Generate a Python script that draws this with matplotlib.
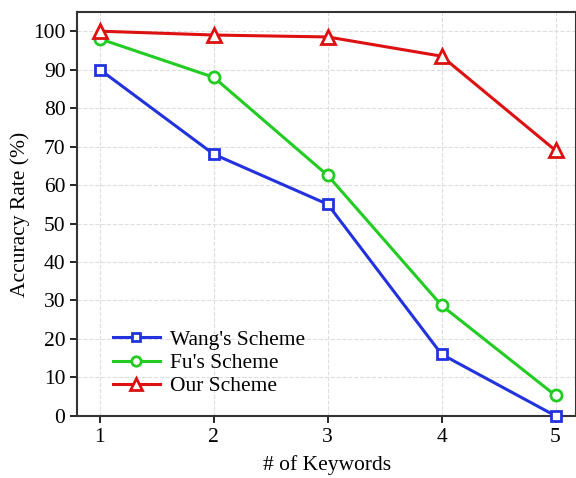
import matplotlib.pyplot as plt

keywords = [1, 2, 3, 4, 5]
wang = [90, 68, 55, 16, 0]
fu = [98, 88, 62.5, 28.7, 5.3]
ours = [100, 99, 98.5, 93.5, 69]

plt.rcParams['font.family'] = ['Liberation Serif', 'DejaVu Serif']

fig = plt.figure(figsize=(5.76, 4.78), dpi=100)
ax = fig.add_axes([0.134, 0.13, 0.866, 0.845])

ax.plot(keywords, wang, '-s', color='#2233dd', lw=2.2, ms=7, mfc='white', mew=2, label="Wang's Scheme", clip_on=False, zorder=3)
ax.plot(keywords, fu, '-o', color='#22cc22', lw=2.2, ms=8, mfc='white', mew=2, label="Fu's Scheme", clip_on=False, zorder=3)
ax.plot(keywords, ours, '-^', color='#dd1111', lw=2.2, ms=9.5, mfc='white', mew=2, label="Our Scheme", clip_on=False, zorder=3)

ax.set_xlim(0.8, 5.18)
ax.set_ylim(0, 105)
ax.set_xticks(keywords)
ax.set_yticks(range(0, 101, 10))
ax.tick_params(labelsize=15.5, direction='out', length=5, width=1.2)
ax.grid(True, ls='--', color='#dddddd', lw=0.8)
for s in ax.spines.values():
    s.set_linewidth(1.5)
    s.set_color('#333333')

ax.set_xlabel('# of Keywords', fontsize=15.5, labelpad=6)
ax.set_ylabel('Accuracy Rate (%)', fontsize=15.5, labelpad=2)
ax.legend(loc='lower left', bbox_to_anchor=(0.032, 0.0), frameon=False, fontsize=15.5,
          handlelength=2.2, handletextpad=0.45, labelspacing=0.15, markerscale=0.85)

fig.savefig('out.png', dpi=100)
